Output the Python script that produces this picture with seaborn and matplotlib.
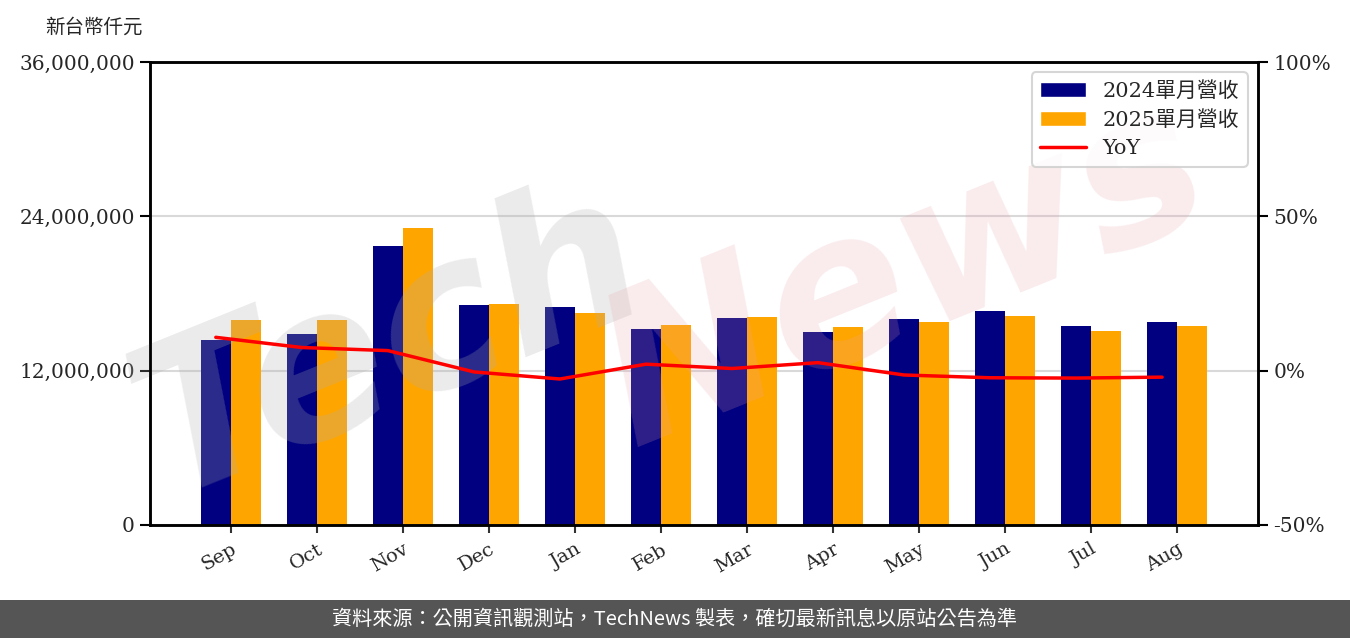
import matplotlib
matplotlib.use("Agg")
import matplotlib.pyplot as plt
import seaborn as sns
import pandas as pd
import numpy as np
from matplotlib.ticker import FuncFormatter, FixedLocator
from matplotlib.patches import Patch, Rectangle
from matplotlib.lines import Line2D

months = ["Sep", "Oct", "Nov", "Dec", "Jan", "Feb", "Mar", "Apr", "May", "Jun", "Jul", "Aug"]
rev_2024 = [14390000, 14850000, 21700000, 17110000, 16950000, 15240000,
            16100000, 15010000, 16020000, 16640000, 15470000, 15790000]
rev_2025 = [15940000, 15940000, 23090000, 17180000, 16490000, 15550000,
            16170000, 15400000, 15790000, 16250000, 15090000, 15470000]
yoy = [10.8, 7.5, 6.5, -0.4, -2.7, 2.1, 0.7, 2.6, -1.4, -2.3, -2.4, -2.1]
series_names = ["2024單月營收", "2025單月營收"]
yoy_name = "YoY"
y_label = "新台幣仟元"
footer = "資料來源：公開資訊觀測站，TechNews 製表，確切最新訊息以原站公告為準"

sns.set_style("white")
plt.rcParams["font.family"] = ["DejaVu Serif", "Noto Sans CJK TC"]

df = pd.DataFrame({
    "month": months * 2,
    "value": rev_2024 + rev_2025,
    "series": [series_names[0]] * len(months) + [series_names[1]] * len(months),
})

fig = plt.figure(figsize=(13.5, 6.38), dpi=100)
ax = fig.add_axes([150 / 1350, 1 - 525 / 638, 1108 / 1350, 463 / 638])

colors = ["#000080", "#FFA500"]
sns.barplot(data=df, x="month", y="value", hue="series", order=months,
            hue_order=series_names, palette=colors, width=0.7, gap=0,
            saturation=1, ax=ax, legend=False, errorbar=None, linewidth=0)

ax.set_ylim(0, 36000000)
ax.set_xlim(-0.94, 11.94)
ax.yaxis.set_major_locator(FixedLocator([0, 12000000, 24000000, 36000000]))
ax.yaxis.set_major_formatter(FuncFormatter(lambda v, p: f"{int(v):,}"))
ax.grid(axis="y", color="#d9d9d9", linewidth=1.5)
ax.set_axisbelow(True)
ax.set_xlabel("")
ax.set_ylabel("")
for s in ax.spines.values():
    s.set_color("black")
    s.set_linewidth(1.8)
ax.tick_params(axis="y", which="major", left=True, length=7, width=1.5,
               labelsize=14.5, color="black", pad=4)
ax.tick_params(axis="x", which="major", bottom=True, length=6, width=1.5,
               labelsize=14, color="#333333", pad=5)
for lab in ax.get_xticklabels():
    lab.set_rotation(30)
    lab.set_ha("right")
    lab.set_rotation_mode("anchor")

ax2 = ax.twinx()
xpos = np.arange(len(months)) - 0.175
ax2.plot(xpos, yoy, color="#FF0000", linewidth=2.5)
ax2.set_ylim(-50, 100)
ax2.yaxis.set_major_locator(FixedLocator([-50, 0, 50, 100]))
ax2.yaxis.set_major_formatter(FuncFormatter(lambda v, p: f"{int(v)}%"))
ax2.tick_params(axis="y", right=True, length=7, width=1.5, labelsize=14.5,
                color="black", pad=4)
for s in ax2.spines.values():
    s.set_color("black")
    s.set_linewidth(1.8)

# watermark (drawn over bars, under legend)
ax2.text(390 / 1350, 1 - 345 / 638, "Tech", transform=fig.transFigure,
         fontsize=150, color="#b0b0b0", alpha=0.25, rotation=22,
         ha="center", va="center", style="italic", family=["DejaVu Sans"],
         fontweight="bold", zorder=1)
ax2.text(905 / 1350, 1 - 275 / 638, "News", transform=fig.transFigure,
         fontsize=150, color="#e8a0a8", alpha=0.2, rotation=22,
         ha="center", va="center", style="italic", family=["DejaVu Sans"],
         fontweight="bold", zorder=1)

handles = [Patch(facecolor=colors[0], label=series_names[0]),
           Patch(facecolor=colors[1], label=series_names[1]),
           Line2D([0], [0], color="#FF0000", linewidth=2.5, label=yoy_name)]
leg = ax2.legend(handles=handles, loc="upper right", fontsize=15,
                 frameon=True, edgecolor="#cccccc", fancybox=True,
                 handlelength=2.2, borderaxespad=0.5, labelspacing=0.45)
leg.get_frame().set_linewidth(1.5)
leg.set_zorder(10)

fig.text(45 / 1350, 1 - 27 / 638, y_label, fontsize=14, va="center", ha="left",
         family=["Noto Sans CJK TC"])

# footer
fig.patches.append(Rectangle((0, 0), 1, 38 / 638, transform=fig.transFigure,
                             facecolor="#555555", edgecolor="none", zorder=0))
fig.text(0.5, 19 / 638, footer, color="white", fontsize=14.5, ha="center",
         va="center", family=["Noto Sans CJK TC", "DejaVu Sans"])

fig.savefig("out.png", dpi=100)
